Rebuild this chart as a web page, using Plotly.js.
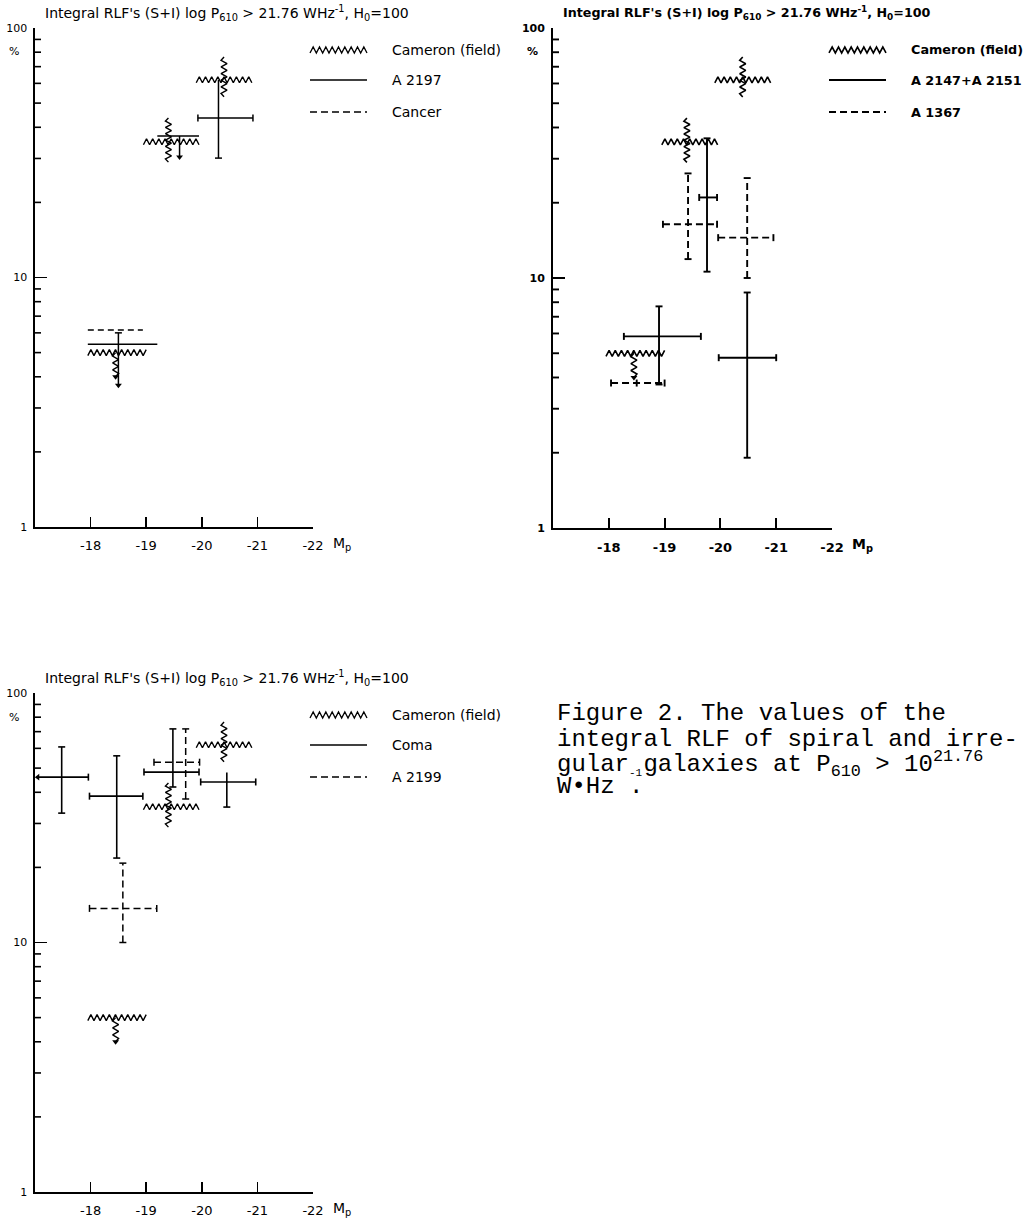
<!DOCTYPE html>
<html><head><meta charset="utf-8">
<script src="https://cdn.plot.ly/plotly-3.0.1.min.js"></script>
<style>html,body{margin:0;padding:0;background:#fff}</style>
</head><body><div id="chart" style="width:1034px;height:1218px"></div>
<script>
const W = 1034, H = 1218;
const X_RANGE = [-17, -22];
const xTickVals = [-18, -19, -20, -21, -22];
const xTickText = ['-18', '-19', '-20', '-21', '-22'];
const yTickVals = [1, 10, 100];
const yTickText = ['1', '10', '100'];
const yMinorVals = [2, 3, 4, 5, 6, 7, 8, 9, 20, 30, 40, 50, 60, 70, 80, 90];

// Cameron (field) - same in all three panels
const camX   = [-18.45, -19.4, -20.4];
const camY   = [5.0, 35, 62];
const camXlo = [-17.95, -18.95, -19.9];
const camXhi = [-19.0, -19.95, -20.9];
const camYlo = [4.0, 29, 53];
const camYhi = [5.0, 43.6, 76.5];
const camLimit = [true, false, false];

// Panel 1: A 2197 (solid) and Cancer (dashed)
const a2197X   = [-18.5, -19.6, -20.3];
const a2197Y   = [5.4, 36.9, 43.6];
const a2197Xlo = [-17.95, -19.2, -19.93];
const a2197Xhi = [-19.2, -19.95, -20.92];
const a2197Ylo = [3.7, 30.4, 30.1];
const a2197Yhi = [6.0, 36.9, 62];
const a2197Limit = [true, true, false];
const cancerX   = [-18.45];
const cancerY   = [6.16];
const cancerXlo = [-17.95];
const cancerXhi = [-18.94];

// Panel 2: A 2147+A 2151 (solid) and A 1367 (dashed)
const a2147X   = [-19.76, -18.9, -20.48];
const a2147Y   = [21.0, 5.84, 4.8];
const a2147Xlo = [-19.62, -18.27, -19.97];
const a2147Xhi = [-19.94, -19.65, -21.0];
const a2147Ylo = [10.6, 3.75, 1.91];
const a2147Yhi = [36.2, 7.7, 8.75];
const a1367X   = [-19.42, -20.48, -18.5];
const a1367Y   = [16.4, 14.5, 3.8];
const a1367Xlo = [-18.97, -19.96, -18.04];
const a1367Xhi = [-19.94, -20.95, -19.0];
const a1367Ylo = [11.9, 10.0, 3.8];
const a1367Yhi = [26.2, 25.1, 3.8];

// Panel 3: Coma (solid) and A 2199 (dashed)
const comaX   = [-17.48, -18.47, -19.48, -20.45];
const comaY   = [46, 38.6, 48.2, 44];
const comaXlo = [-17.05, -17.98, -18.96, -19.98];
const comaXhi = [-17.96, -18.94, -19.95, -20.97];
const comaYlo = [33, 21.8, 42, 34.9];
const comaYhi = [60.8, 56, 71.8, 48];
const comaLeftArrow = [true, false, false, false];
const a2199X   = [-18.58, -19.71];
const a2199Y   = [13.7, 52.8];
const a2199Xlo = [-17.98, -19.14];
const a2199Xhi = [-19.19, -19.96];
const a2199Ylo = [10.0, 37.6];
const a2199Yhi = [20.8, 71.8];

const legendNames = [
  ['Cameron (field)', 'A 2197', 'Cancer'],
  ['Cameron (field)', 'A 2147+A 2151', 'A 1367'],
  ['Cameron (field)', 'Coma', 'A 2199']
];
const titleText = "Integral RLF's (S+I) log P<sub>610</sub> &gt; 21.76 WHz<sup>-1</sup>, H<sub>0</sub>=100";

// ---------- layout geometry (pixels) ----------
const boxes = [
  {l: 35, r: 313, t: 28, b: 527},
  {l: 553, r: 832, t: 28, b: 528},
  {l: 35, r: 313, t: 693, b: 1192}
];
const INK = '#000000';
const FONT = 'DejaVu Sans, Verdana, sans-serif';

function toPx(p, x, y) {
  return [p.l + (X_RANGE[0] - x) / (X_RANGE[0] - X_RANGE[1]) * (p.r - p.l),
          p.b - Math.log10(y) / 2 * (p.b - p.t)];
}
function fromPx(p, px, py) {
  return [X_RANGE[0] - (px - p.l) / (p.r - p.l) * (X_RANGE[0] - X_RANGE[1]),
          Math.pow(10, (p.b - py) / (p.b - p.t) * 2)];
}
function acc() { return {x: [], y: []}; }
function pushPts(a, pts) { pts.forEach(q => { a.x.push(q[0]); a.y.push(q[1]); }); a.x.push(null); a.y.push(null); }

const CAP = 3.5;
function cross(main, caps, p, xc, y, xlo, xhi, ylo, yhi, o) {
  o = o || {};
  const [pxc, pyc] = toPx(p, xc, y);
  const pxlo = toPx(p, xlo, y)[0], pxhi = toPx(p, xhi, y)[0];
  if (xlo !== xhi) pushPts(main, [[xlo, y], [xhi, y]]);
  if (o.hcaps) {
    if (!o.leftArrow) pushPts(caps, [fromPx(p, pxlo, pyc - CAP), fromPx(p, pxlo, pyc + CAP)]);
    pushPts(caps, [fromPx(p, pxhi, pyc - CAP), fromPx(p, pxhi, pyc + CAP)]);
  }
  if (yhi > ylo) pushPts(main, [[xc, ylo], [xc, yhi]]);
  if (yhi > y && !o.noTopCap) {
    const py = toPx(p, xc, yhi)[1];
    pushPts(caps, [fromPx(p, pxc - CAP, py), fromPx(p, pxc + CAP, py)]);
  }
  if (ylo < y && !o.limit) {
    const py = toPx(p, xc, ylo)[1];
    pushPts(caps, [fromPx(p, pxc - CAP, py), fromPx(p, pxc + CAP, py)]);
  }
  if (o.centerTick) pushPts(caps, [fromPx(p, pxc, pyc - CAP), fromPx(p, pxc, pyc + CAP)]);
}
function zigH(a, p, xa, xb, y, amp, per) {
  const [pa, py] = toPx(p, xa, y); const pb = toPx(p, xb, y)[0];
  const n = Math.max(2, Math.round(Math.abs(pb - pa) / (per / 2)));
  const pts = [];
  for (let i = 0; i <= n; i++) pts.push(fromPx(p, pa + (pb - pa) * i / n, py + (i % 2 ? -amp : amp)));
  pushPts(a, pts);
}
function zigV(a, p, x, ya, yb, amp, per) {
  const [px, pa] = toPx(p, x, ya); const pb = toPx(p, x, yb)[1];
  const n = Math.max(2, Math.round(Math.abs(pb - pa) / (per / 2)));
  const pts = [];
  for (let i = 0; i <= n; i++) pts.push(fromPx(p, px + (i % 2 ? -amp : amp) * (i === 0 || i === n ? 0 : 1), pa + (pb - pa) * i / n));
  pushPts(a, pts);
}

const traces = [];
function lineTrace(a, k, dash, width) {
  traces.push({type: 'scatter', mode: 'lines', x: a.x, y: a.y, xaxis: 'x' + (k ? k + 1 : ''), yaxis: 'y' + (k ? k + 1 : ''),
    line: {color: INK, width: width || 1.5, dash: dash || 'solid'}, connectgaps: false, hoverinfo: 'skip', showlegend: false});
}
function markerTrace(xs, ys, k, sym) {
  traces.push({type: 'scatter', mode: 'markers', x: xs, y: ys, xaxis: 'x' + (k ? k + 1 : ''), yaxis: 'y' + (k ? k + 1 : ''),
    marker: {symbol: sym, size: 6, color: INK}, hoverinfo: 'skip', showlegend: false, cliponaxis: false});
}

// Cameron zigzag crosses in every panel
boxes.forEach((p, k) => {
  const z = acc();
  const ax = [], ay = [];
  for (let i = 0; i < camX.length; i++) {
    zigH(z, p, camXlo[i], camXhi[i], camY[i], 3, 6.3);
    zigV(z, p, camX[i], camYhi[i], camYlo[i], 3, 6.5);
    if (camLimit[i]) { ax.push(camX[i]); ay.push(camYlo[i]); }
  }
  lineTrace(z, k, 'solid', k === 1 ? 1.6 : 1.4);
  if (ax.length) markerTrace(ax, ay, k, 'triangle-down');
});

// Panel 1
(function () {
  const p = boxes[0]; const m = acc(), c = acc(); const ax = [], ay = [];
  for (let i = 0; i < a2197X.length; i++) {
    cross(m, c, p, a2197X[i], a2197Y[i], a2197Xlo[i], a2197Xhi[i], a2197Ylo[i], a2197Yhi[i],
      {limit: a2197Limit[i], hcaps: !a2197Limit[i], noTopCap: !a2197Limit[i]});
    if (a2197Limit[i]) { ax.push(a2197X[i]); ay.push(a2197Ylo[i]); }
  }
  lineTrace(m, 0); lineTrace(c, 0); markerTrace(ax, ay, 0, 'triangle-down');
  const d = acc();
  for (let i = 0; i < cancerX.length; i++) pushPts(d, [[cancerXlo[i], cancerY[i]], [cancerXhi[i], cancerY[i]]]);
  lineTrace(d, 0, '6px,4px', 1.3);
})();

// Panel 2
(function () {
  const p = boxes[1]; const m = acc(), c = acc();
  for (let i = 0; i < a2147X.length; i++)
    cross(m, c, p, a2147X[i], a2147Y[i], a2147Xlo[i], a2147Xhi[i], a2147Ylo[i], a2147Yhi[i], {hcaps: true});
  lineTrace(m, 1, 'solid', 1.9); lineTrace(c, 1, 'solid', 1.9);
  const d = acc(), dc = acc();
  for (let i = 0; i < a1367X.length; i++)
    cross(d, dc, p, a1367X[i], a1367Y[i], a1367Xlo[i], a1367Xhi[i], a1367Ylo[i], a1367Yhi[i], {hcaps: true, centerTick: a1367Ylo[i] === a1367Yhi[i]});
  lineTrace(d, 1, '7px,4px', 1.9); lineTrace(dc, 1, 'solid', 1.9);
})();

// Panel 3
(function () {
  const p = boxes[2]; const m = acc(), c = acc(); const ax = [], ay = [];
  for (let i = 0; i < comaX.length; i++) {
    cross(m, c, p, comaX[i], comaY[i], comaXlo[i], comaXhi[i], comaYlo[i], comaYhi[i], {hcaps: true, leftArrow: comaLeftArrow[i], noTopCap: i === 3});
    if (comaLeftArrow[i]) { ax.push(comaXlo[i]); ay.push(comaY[i]); }
  }
  lineTrace(m, 2, 'solid', 1.6); lineTrace(c, 2, 'solid', 1.6); markerTrace(ax, ay, 2, 'triangle-left');
  const d = acc(), dc = acc();
  for (let i = 0; i < a2199X.length; i++)
    cross(d, dc, p, a2199X[i], a2199Y[i], a2199Xlo[i], a2199Xhi[i], a2199Ylo[i], a2199Yhi[i], {hcaps: true});
  lineTrace(d, 2, '7px,4px', 1.5); lineTrace(dc, 2, 'solid', 1.5);
})();

// ---------- layout ----------
const layout = {width: W, height: H, margin: {l: 0, r: 0, t: 0, b: 0}, paper_bgcolor: '#fff', plot_bgcolor: 'rgba(0,0,0,0)',
  showlegend: false, annotations: [], shapes: []};
const px = v => v / W, py = v => 1 - v / H;

boxes.forEach((p, k) => {
  const bold = k === 1;
  const f = s => ({family: FONT, size: s, color: INK, weight: bold ? 'bold' : 'normal'});
  const sfx = k ? k + 1 : '';
  const lw = bold ? 1.9 : 1.6;
  layout['xaxis' + sfx] = {domain: [px(p.l), px(p.r)], range: X_RANGE, anchor: 'y' + sfx,
    tickmode: 'array', tickvals: xTickVals, ticktext: xTickText, ticks: 'inside', ticklen: 10, tickwidth: lw, tickcolor: INK,
    showline: true, linewidth: lw, linecolor: INK, showgrid: false, zeroline: false, tickfont: f(13), ticklabelstandoff: 6, fixedrange: true};
  layout['yaxis' + sfx] = {domain: [py(p.b), py(p.t)], type: 'log', range: [0, 2], anchor: 'x' + sfx,
    tickmode: 'array', tickvals: yTickVals, ticktext: yTickText, ticks: 'inside', ticklen: 12, tickwidth: lw, tickcolor: INK,
    showline: true, linewidth: lw, linecolor: INK, showgrid: false, zeroline: false, tickfont: f(11), ticklabelstandoff: 4, fixedrange: true};
  // minor log ticks on the y axis
  yMinorVals.forEach(v => {
    const yy = toPx(p, X_RANGE[0], v)[1];
    layout.shapes.push({type: 'line', xref: 'paper', yref: 'paper', x0: px(p.l), x1: px(p.l + 6), y0: py(yy), y1: py(yy),
      line: {color: INK, width: lw}});
  });
  // title
  layout.annotations.push({xref: 'paper', yref: 'paper', x: px(p.l + 8), y: py(p.t - 15), xanchor: 'left', yanchor: 'middle',
    text: titleText, showarrow: false, font: f(bold ? 12.7 : 14)});
  layout.annotations.push({xref: 'paper', yref: 'paper', x: px(p.l - 28), y: py(p.t + 24), xanchor: 'left', yanchor: 'middle',
    text: '%', showarrow: false, font: f(11)});
  layout.annotations.push({xref: 'paper', yref: 'paper', x: px(p.r + 18), y: py(p.b + 17), xanchor: 'left', yanchor: 'middle',
    text: 'M<sub>p</sub>', showarrow: false, font: f(14)});
  // legend
  const lx0 = p.r - 3, lx1 = p.r + 54, tx = p.r + 77;
  const ly = [p.t + 22, p.t + 52, p.t + 84];
  let path = '';
  const nZ = 18;
  for (let i = 0; i <= nZ; i++) {
    const xx = lx0 + (lx1 - lx0) * i / nZ, yy = ly[0] + (i % 2 ? -3 : 3);
    path += (i ? ' L ' : 'M ') + px(xx).toFixed(5) + ',' + py(yy).toFixed(5);
  }
  layout.shapes.push({type: 'path', xref: 'paper', yref: 'paper', path: path, line: {color: INK, width: bold ? 1.6 : 1.3}});
  layout.shapes.push({type: 'line', xref: 'paper', yref: 'paper', x0: px(lx0), x1: px(lx1), y0: py(ly[1]), y1: py(ly[1]), line: {color: INK, width: bold ? 1.8 : 1.3}});
  layout.shapes.push({type: 'line', xref: 'paper', yref: 'paper', x0: px(lx0), x1: px(lx1), y0: py(ly[2]), y1: py(ly[2]), line: {color: INK, width: bold ? 1.8 : 1.3, dash: '7px,4px'}});
  legendNames[k].forEach((name, j) => {
    layout.annotations.push({xref: 'paper', yref: 'paper', x: px(tx), y: py(ly[j]), xanchor: 'left', yanchor: 'middle',
      text: name, showarrow: false, font: f(bold ? 12.8 : 14)});
  });
});

// caption
const CAPFONT = 'Liberation Mono, DejaVu Sans Mono, monospace';
const capLines = [
  'Figure 2. The values of the',
  'integral RLF of spiral and irre-',
  'gular galaxies at P<sub>610</sub> &gt; 10<sup>21.76</sup>',
  'W•Hz .'
];
const capY = [714, 739, 764, 786];
capLines.forEach((t, i) => {
  layout.annotations.push({xref: 'paper', yref: 'paper', x: px(555), y: py(capY[i]), xanchor: 'left', yanchor: 'middle',
    text: t, showarrow: false, font: {family: CAPFONT, size: 24, color: INK}});
});
// the misplaced "-1" exponent of W·Hz, typed on the line above
layout.annotations.push({xref: 'paper', yref: 'paper', x: px(627), y: py(773), xanchor: 'left', yanchor: 'middle',
  text: '-1', showarrow: false, font: {family: CAPFONT, size: 11, color: INK}});

Plotly.newPlot('chart', traces, layout, {staticPlot: true, displayModeBar: false});
</script></body></html>
